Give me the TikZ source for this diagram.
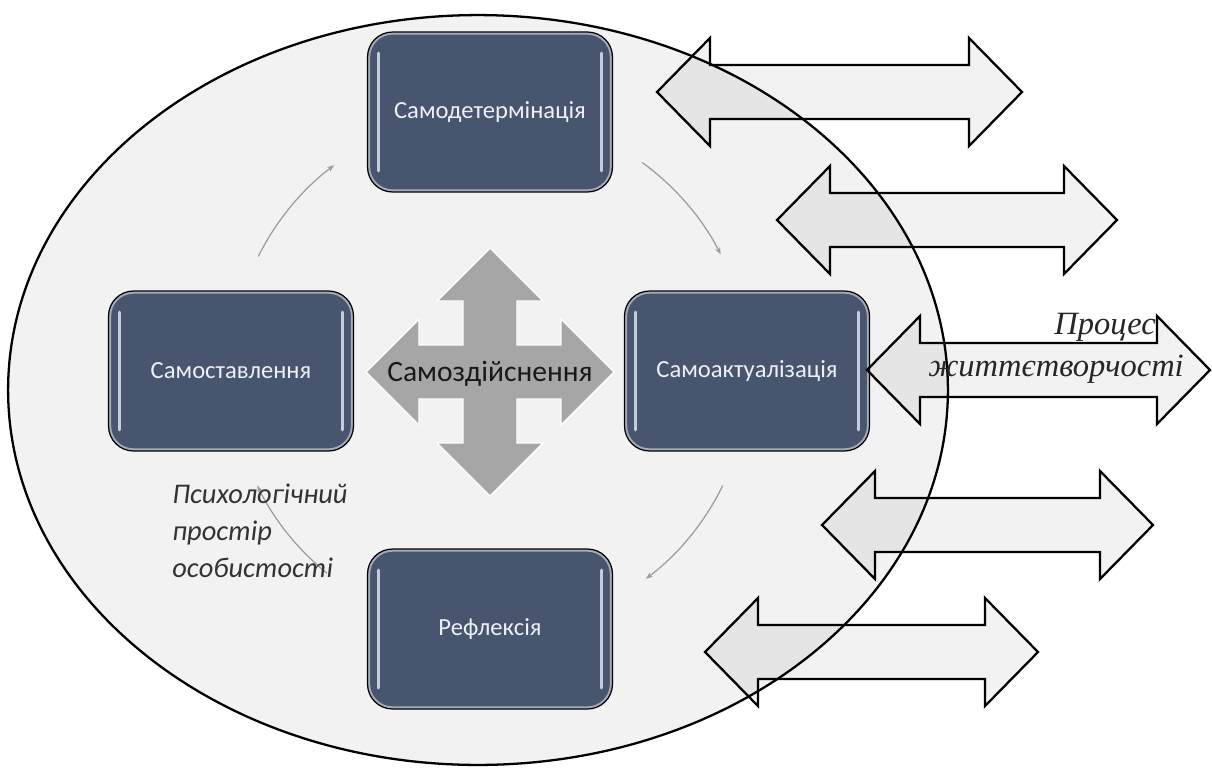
\documentclass[tikz,border=0pt]{standalone}
\usepackage{fontspec}
\setmainfont{Carlito}
\newfontfamily\procfont{Liberation Serif}
\usetikzlibrary{arrows.meta}
\definecolor{boxfill}{HTML}{47566E}
\definecolor{ellfill}{HTML}{F2F2F2}
\definecolor{crossfill}{HTML}{A6A6A6}
\definecolor{boxtext}{HTML}{EDF0F5}
\definecolor{hilite}{HTML}{C4CDDD}
\definecolor{arcgray}{HTML}{9C9C9C}
\newcommand{\DblArr}[3]{% xleft, xright, y
  \filldraw[dblarrow] (#1,#3) -- (#1+53,#3-54) -- (#1+53,#3-27) -- (#2-53,#3-27)
    -- (#2-53,#3-54) -- (#2,#3) -- (#2-53,#3+54) -- (#2-53,#3+27)
    -- (#1+53,#3+27) -- (#1+53,#3+54) -- cycle;}
\tikzset{
  stage/.style={draw=black, line width=0.7pt, fill=boxfill, rounded corners=0.5cm,
    minimum width=4.9cm, minimum height=3.2cm, text=boxtext,
    font=\fontsize{14}{16}\selectfont,
    path picture={
      \draw[white!50!boxfill, line width=3pt, rounded corners=0.5cm]
        (path picture bounding box.north west) rectangle (path picture bounding box.south east);
      \draw[hilite, line width=1.7pt, line cap=round]
        ([xshift=0.22cm,yshift=-0.42cm]path picture bounding box.north west) --
        ([xshift=0.22cm,yshift=0.42cm]path picture bounding box.south west);
      \draw[hilite, line width=1.7pt, line cap=round]
        ([xshift=-0.22cm,yshift=-0.42cm]path picture bounding box.north east) --
        ([xshift=-0.22cm,yshift=0.42cm]path picture bounding box.south east);
    }},
  dblarrow/.style={draw=black, line width=1.3pt, fill=black, fill opacity=0.05, draw opacity=1, line join=miter},
  cyc/.style={draw=arcgray, line width=0.7pt, -{Stealth[length=4pt,width=3pt]}},
  crossstyle/.style={fill=crossfill, draw=white, line width=0.8pt},
}
\begin{document}
\begin{tikzpicture}[x=0.02cm, y=-0.02cm]
\useasboundingbox (0,0) rectangle (1212,768);
\fill[white] (0,0) rectangle (1212,768);
% ellipse (psychological space)
\coordinate (ec) at (478,390);
\fill[ellfill] (ec) ellipse[x radius=9.4cm, y radius=7.5cm];
% stage boxes
\node[stage] (det)  at (490,112) {Самодетермінація};
\node[stage] (act)  at (747,371) {Самоактуалізація};
\node[stage] (stav) at (231,371) {Самоставлення};
\node[stage] (ref)  at (490,629) {Рефлексія};
% central cross
\begin{scope}[shift={(490,372)}]
\filldraw[crossstyle] (0,-124) -- (53,-71) -- (27,-71) -- (27,-27) -- (71,-27) -- (71,-53)
  -- (124,0) -- (71,53) -- (71,27) -- (27,27) -- (27,71) -- (53,71) -- (0,124)
  -- (-53,71) -- (-27,71) -- (-27,27) -- (-71,27) -- (-71,53) -- (-124,0)
  -- (-71,-53) -- (-71,-27) -- (-27,-27) -- (-27,-71) -- (-53,-71) -- cycle;
\end{scope}
\node[font=\fontsize{16.8}{18}\selectfont, text=black!90] (self) at (490,374) {Самоздійснення};
% cycle arcs
\coordinate (c) at (490,372);
\draw[cyc] (c) ++(153.5:5.18cm) arc[start angle=153.5, end angle=127, radius=5.18cm];
\draw[cyc] (c) ++(54:5.18cm) arc[start angle=54, end angle=27, radius=5.18cm];
\draw[cyc] (c) ++(-26:5.18cm) arc[start angle=-26, end angle=-53, radius=5.18cm];
\draw[cyc] (c) ++(-129:5.18cm) arc[start angle=-129, end angle=-154, radius=5.18cm];
% double arrows
\DblArr{657}{1022}{92}
\DblArr{777}{1117}{220}
\DblArr{867}{1210}{370}
\DblArr{822}{1153}{525}
\DblArr{705}{1038}{652}
% ellipse outline
\draw[black, line width=1.3pt] (ec) ellipse[x radius=9.4cm, y radius=7.5cm];
% labels
\node[anchor=north west, align=left, inner sep=0pt, text=black!80,
  font=\itshape\fontsize{16.2}{21}\selectfont] (psy) at (172,484) {Психологічний\\простір\\особистості};
\node[font=\procfont\itshape\fontsize{18.5}{22}\selectfont, text=black!85] (proc1) at (1105,327) {Процес};
\node[font=\procfont\itshape\fontsize{18.5}{22}\selectfont, text=black!85] (proc2) at (1056,369) {життєтворчості};
\end{tikzpicture}
\end{document}
